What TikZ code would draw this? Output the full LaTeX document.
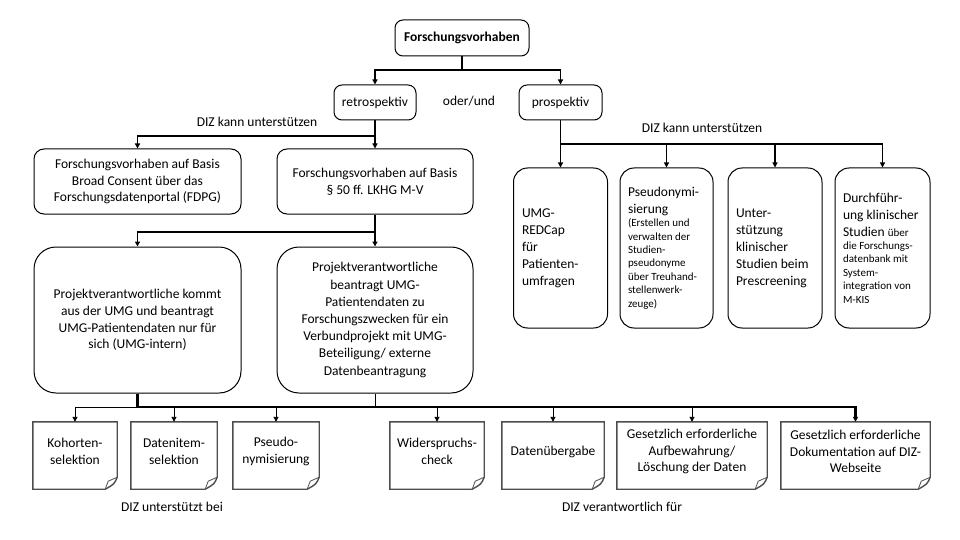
\documentclass[tikz,border=0pt]{standalone}
\usepackage{fontspec}
\setmainfont{Carlito}
\usetikzlibrary{arrows.meta}
\definecolor{nb}{HTML}{4D4D4D}
\hyphenpenalty=10000
\exhyphenpenalty=10000
\newcommand\bigf{\fontsize{13.5}{17}\selectfont}
\newcommand\smallf{\fontsize{11}{13.4}\selectfont}
\newcommand\notebox[1]{%
  \draw[notebd] (#1.north west) -- (#1.north east) -- ([yshift=12pt]#1.south east)
    .. controls ([xshift=-3pt,yshift=5pt]#1.south east) .. ([xshift=-12pt]#1.south east)
    -- (#1.south west) -- cycle;
  \draw[notebd,line width=0.8pt] ([xshift=-12pt]#1.south east) -- ([xshift=-9pt,yshift=8pt]#1.south east) -- ([yshift=12pt]#1.south east);}
\begin{document}
\begin{tikzpicture}[x=1pt,y=-1pt,
  txt/.style={font=\fontsize{13.5}{16.8}\selectfont, inner sep=0pt, align=center},
  rb/.style={draw, line width=1pt, rounded corners=#1, inner sep=0pt, align=center, font=\fontsize{13.5}{16.8}\selectfont},
  rb/.default=8pt,
  pb/.style={draw, line width=1pt, rounded corners=14pt, inner sep=0pt, align=flush left, font=\bigf},
  sz/.style 2 args={minimum width=#1, minimum height=#2},
  shape1/.style={draw=none, inner sep=0pt},
  notebd/.style={draw=nb, line width=1.4pt, line join=miter},
  c1/.style={line width=1.3pt},
  c2/.style={line width=1.7pt},
  cth/.style={line width=2.1pt},
  ctn/.style={line width=0.9pt},
  arr/.style={-{Triangle[length=5pt,width=5pt]}}
]
\fill[white] (0,0) rectangle (960,540);
\useasboundingbox (0,0) rectangle (960,540);

% top
\node[rb, sz={134}{36}, font=\bfseries\fontsize{13.5}{16.8}\selectfont] (fv) at (462,38) {Forschungsvorhaben};
\node[rb, sz={82}{35}] (retro) at (375,102.5) {retrospektiv};
\node[rb, sz={83}{35}] (prosp) at (560.5,102.5) {prospektiv};
\node[txt] (oder) at (469,101) {oder/und};
\node[txt] (diz1) at (257,122) {DIZ kann unterst\"utzen};
\node[txt] (diz2) at (702,128) {DIZ kann unterst\"utzen};

% retrospective branch
\node[rb=10pt, sz={207}{65}] (fdpg) at (137.5,181.5) {Forschungsvorhaben auf Basis\\Broad Consent \"uber das\\Forschungsdatenportal (FDPG)};
\node[rb=10pt, sz={196}{65}] (lk) at (375,181.5) {Forschungsvorhaben auf Basis\\\S\ 50 ff. LKHG M-V};
\node[rb=22pt, sz={207}{146}] (pr1) at (137.5,320) {Projektverantwortliche kommt\\aus der UMG und beantragt\\UMG-Patientendaten nur f\"ur\\sich (UMG-intern)};
\node[rb=22pt, sz={196}{146}, font=\fontsize{13.5}{17.2}\selectfont] (pr2) at (375,320) {Projektverantwortliche\\beantragt UMG-\\Patientendaten zu\\Forschungszwecken f\"ur ein\\Verbundprojekt mit UMG-\\Beteiligung/ externe\\Datenbeantragung};

% prospective branch
\node[pb, sz={94}{160}, text width=77pt] (p1) at (560.5,248) {UMG-\\REDCap\\f\"ur\\Patienten-\\umfragen};
\node[pb, sz={93}{160}, text width=77pt] (p2) at (666.5,248) {{\bigf Pseudonymi-\\sierung\par}{\smallf (Erstellen und\\verwalten der\\Studien-\\pseudonyme\\\"uber Treuhand-\\stellenwerk-\\zeuge)\par}};
\node[pb, sz={94}{160}, text width=78pt] (p3) at (775,248) {Unter-\\st\"utzung\\klinischer\\Studien beim\\Prescreening};
\node[pb, sz={95}{160}, text width=79pt] (p4) at (882.5,248) {{\bigf Durchf\"uhr-\\ung klinischer\\Studien {\smallf \"uber}\par}{\smallf die Forschungs-\\datenbank mit\\System-\\integration von\\M-KIS\par}};

% bottom notes (outline shapes)
\node[shape1, sz={84}{67}] (k1) at (75,455.5) {};
\node[shape1, sz={86}{67}] (k2) at (174,455.5) {};
\node[shape1, sz={86}{67}] (k3) at (276,455.5) {};
\node[shape1, sz={94}{67}] (k4) at (437,455.5) {};
\node[shape1, sz={102}{67}] (k5) at (553,455.5) {};
\node[shape1, sz={150}{67}] (k6) at (692,455.5) {};
\node[shape1, sz={149}{67}] (k7) at (855.5,455.5) {};
\foreach \n in {k1,k2,k3,k4,k5,k6,k7}{\notebox{\n}}
\node[txt] (k1t) at (75,451.5) {Kohorten-\\selektion};
\node[txt] (k2t) at (174,451.5) {Datenitem-\\selektion};
\node[txt] (k3t) at (276,451.5) {Pseudo-\\nymisierung};
\node[txt] (k4t) at (437,451.5) {Widerspruchs-\\check};
\node[txt] (k5t) at (553,451.5) {Daten\"ubergabe};
\node[txt] (k6t) at (692,451.5) {Gesetzlich erforderliche\\Aufbewahrung/\\L\"oschung der Daten};
\node[txt] (k7t) at (855.5,451.5) {Gesetzlich erforderliche\\Dokumentation auf DIZ-\\Webseite};
\node[txt] (diz3) at (172,507) {DIZ unterst\"utzt bei};
\node[txt] (diz4) at (622,507) {DIZ verantwortlich f\"ur};

% connectors top
\coordinate (j1) at (462,70);
\draw[c1] (fv.south) -- (j1);
\draw[c1,arr] (j1) -| (retro.north);
\draw[c1,arr] (j1) -| (prosp.north);

\coordinate (j2) at (375,136);
\draw[c1,arr] (retro.south) -- (lk.north);
\draw[c1,arr] (j2) -| (fdpg.north);

\coordinate (j3) at (375,232);
\draw[c1,arr] (lk.south) -- (pr2.north);
\draw[c1,arr] (j3) -| (pr1.north);

% prospective connectors
\coordinate (j6) at (560.5,144);
\draw[c2,arr] (prosp.south) -- (p1.north);
\draw[c2,arr] (j6) -| (p4.north);
\draw[c1,arr] (p2.north |- j6) -- (p2.north);
\draw[c1,arr] (p3.north |- j6) -- (p3.north);

% bottom connectors
\coordinate (j4) at (137.5,407);
\coordinate (j5) at (375,407);
\draw[ctn] (pr2.south) -- (j5);
\draw[ctn,arr] (j4) -| (k1.north);
\draw[cth,arr] (pr1.south) -- (j4) -| (k7.north);
\foreach \n in {k2,k3,k4,k5,k6}{\draw[ctn,arr] (\n.north |- j4) -- (\n.north);}
\end{tikzpicture}
\end{document}
